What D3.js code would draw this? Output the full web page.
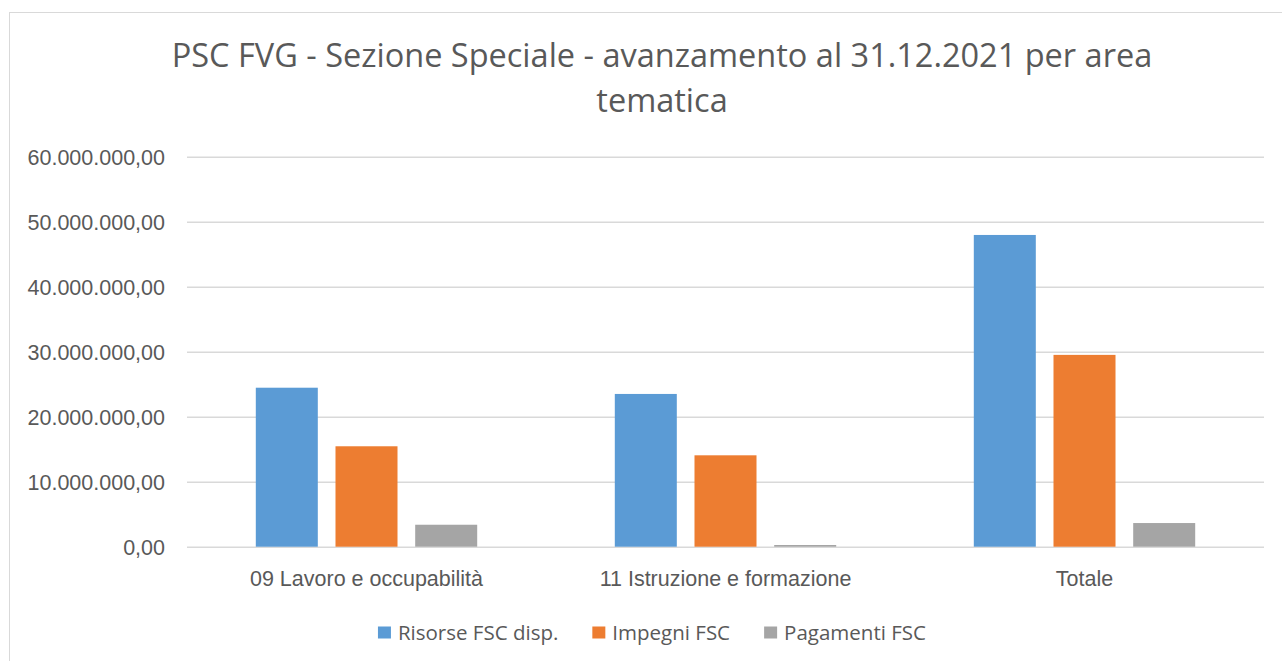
<!DOCTYPE html>
<html>
<head>
<meta charset="utf-8">
<script src="https://cdnjs.cloudflare.com/ajax/libs/d3/7.8.5/d3.min.js"></script>
<style>
  body { margin: 0; background: #fff; }
  svg { display: block; font-family: "Open Sans", sans-serif; }
</style>
</head>
<body>
<div id="chart"></div>
<script>
// Data
const categories = ["09 Lavoro e occupabilità", "11 Istruzione e formazione", "Totale"];
const seriesNames = ["Risorse FSC disp.", "Impegni FSC", "Pagamenti FSC"];
const risorse = [24460000, 23500000, 47960000];
const impegni = [15450000, 14060000, 29510000];
const pagamenti = [3380000, 260000, 3640000];
const yTicks = [0, 10000000, 20000000, 30000000, 40000000, 50000000, 60000000];
const colors = ["#5B9BD5", "#ED7D31", "#A5A5A5"];

const width = 1282, height = 661;
const margin = { top: 156.7, left: 187, right: 18, bottom: 114.3 };
const plotW = width - margin.left - margin.right;
const plotH = height - margin.top - margin.bottom;
const textColor = "#595959";

const itFormat = d3.formatLocale({ decimal: ",", thousands: ".", grouping: [3], currency: ["€", ""] }).format(",.2f");

const svg = d3.select("#chart").append("svg")
    .attr("width", width)
    .attr("height", height);

// Chart frame (only left and top edges visible)
svg.append("rect")
    .attr("x", 9.5).attr("y", 12.5)
    .attr("width", 1400).attr("height", 800)
    .attr("fill", "none")
    .attr("stroke", "#d9d9d9");

// Title
const title = svg.append("text")
    .attr("text-anchor", "middle")
    .attr("fill", textColor)
    .style("font-size", "32.5px");
title.append("tspan").attr("x", 662).attr("y", 67)
    .text("PSC FVG - Sezione Speciale - avanzamento al 31.12.2021 per area");
title.append("tspan").attr("x", 662).attr("y", 111.5)
    .text("tematica");

const g = svg.append("g")
    .attr("transform", `translate(${margin.left}, ${margin.top})`);

// Scales
const y = d3.scaleLinear().domain([0, 60000000]).range([plotH, 0]);
const x0 = d3.scaleBand().domain(categories).range([0, plotW]).padding(0);
const inset = (x0.bandwidth() - 221.4) / 2;
const x1 = d3.scaleBand().domain(seriesNames)
    .range([inset, x0.bandwidth() - inset])
    .paddingInner(0.222).paddingOuter(0);

// Y axis with gridlines
const yAxis = g.append("g")
    .call(d3.axisLeft(y).tickValues(yTicks).tickFormat(itFormat)
        .tickSize(-plotW).tickPadding(22));
yAxis.select(".domain").remove();
yAxis.selectAll(".tick line").attr("stroke", "#d9d9d9").attr("stroke-width", 1.4);
yAxis.selectAll(".tick text")
    .attr("fill", textColor)
    .style("font-size", "21.5px")
    .attr("dy", "0.36em");

// X axis labels
const xAxis = g.append("g")
    .attr("transform", `translate(0, ${plotH})`)
    .call(d3.axisBottom(x0).tickSize(0).tickPadding(24));
xAxis.select(".domain").remove();
xAxis.selectAll(".tick text")
    .attr("fill", textColor)
    .style("font-size", "21.5px");

// Bars
const seriesValues = [risorse, impegni, pagamenti];
const rows = categories.map((c, i) => ({
    category: c,
    values: seriesNames.map((s, j) => ({ series: s, value: seriesValues[j][i], color: colors[j] }))
}));

const groups = g.selectAll(".group")
    .data(rows)
    .join("g")
    .attr("class", "group")
    .attr("transform", d => `translate(${x0(d.category)}, 0)`);

groups.selectAll("rect")
    .data(d => d.values)
    .join("rect")
    .attr("x", d => x1(d.series))
    .attr("width", x1.bandwidth())
    .attr("y", d => y(d.value))
    .attr("height", d => plotH - y(d.value))
    .attr("fill", d => d.color);

// Legend
const legend = svg.append("g").attr("transform", "translate(0, 632.5)");
const items = legend.selectAll(".item")
    .data(seriesNames)
    .join("g")
    .attr("class", "item");
items.append("rect")
    .attr("width", 13).attr("height", 12)
    .attr("y", -6)
    .attr("fill", (d, i) => colors[i]);
items.append("text")
    .attr("x", 20)
    .attr("dy", "0.36em")
    .attr("fill", textColor)
    .style("font-size", "20.5px")
    .text(d => d);

let offsets = [], total = 0;
items.each(function () {
    offsets.push(total);
    total += this.getBBox().width + 34;
});
total -= 34;
const legendStart = 652 - total / 2;
items.attr("transform", (d, i) => `translate(${legendStart + offsets[i]}, 0)`);
</script>
</body>
</html>
